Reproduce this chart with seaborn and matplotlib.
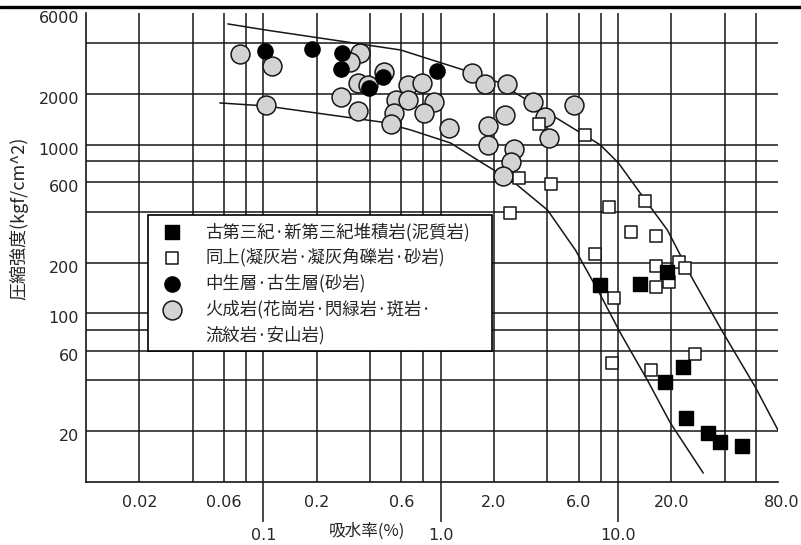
import matplotlib
matplotlib.use("Agg")
import matplotlib.pyplot as plt
from matplotlib.lines import Line2D
from matplotlib.transforms import ScaledTranslation
import seaborn as sns

# ---- data: water absorption (%) vs. compressive strength (kgf/cm^2) ----
# Paleogene / Neogene sedimentary rock (mudstone)
mud_x = [19.0, 7.97, 13.4, 18.5, 23.4, 24.3, 32.4, 37.8, 50.3]
mud_y = [176, 147, 149, 39.2, 48, 23.9, 19.5, 17.3, 16.3]

# same age (tuff, tuff breccia, sandstone)
tuff_x = [3.57, 6.56, 2.76, 4.17, 2.45, 8.96, 14.3, 11.8, 16.5, 7.47,
          16.3, 22.2, 24.0, 16.3, 19.3, 9.55, 9.27, 15.4, 27.3]
tuff_y = [1320, 1140, 630, 580, 393, 427, 463, 303, 287, 225,
          190, 201, 186, 143, 153, 123, 50.7, 46, 57.4]

# Mesozoic / Paleozoic (sandstone)
meso_x = [0.102, 0.188, 0.277, 0.273, 0.471, 0.393, 0.96]
meso_y = [3590, 3690, 3490, 2800, 2520, 2170, 2730]

# igneous rock
ign_x = [0.074, 0.112, 0.103, 0.35, 0.31, 0.273, 0.34, 0.34, 0.388, 0.478,
         0.558, 0.544, 0.523, 0.652, 0.79, 0.652, 0.913, 0.81, 1.51, 1.77,
         2.38, 1.11, 1.86, 1.84, 2.32, 3.30, 3.86, 4.11, 5.69, 2.61,
         2.48, 2.26]
ign_y = [3450, 2920, 1720, 3490, 3090, 1910, 2320, 1580, 2250, 2690,
         1840, 1540, 1320, 2250, 2320, 1840, 1790, 1540, 2650, 2290,
         2290, 1250, 1290, 995, 1500, 1790, 1460, 1090, 1720, 940,
         790, 650]

# envelope curves
upper_x = [0.0631, 0.1033, 0.595, 1.348, 2.095, 3.80, 7.97, 10.07, 14.66,
           19.0, 26.6, 39.3, 59.5, 80.0]
upper_y = [5190, 4775, 3637, 2767, 2350, 1603, 994, 778, 451,
           312, 157.4, 76.4, 36.6, 20.3]
lower_x = [0.0569, 0.1033, 0.459, 0.678, 1.138, 1.68, 2.58, 4.01, 5.76,
           7.97, 10.33, 14.66, 19.76, 30.3]
lower_y = [1765, 1694, 1362, 1221, 1022, 789, 600, 409, 237,
           128.4, 76.4, 40.2, 22.4, 11.3]

# axis grid and tick labels
grid_x = [0.02, 0.04, 0.06, 0.08, 0.1, 0.2, 0.4, 0.6, 0.8, 1, 2, 4, 6, 8,
          10, 20, 40, 60]
grid_y = [20, 40, 60, 80, 100, 200, 400, 600, 800, 1000, 2000, 4000]
xtick_main = [0.1, 1, 10]
xtick_main_labels = ["0.1", "1.0", "10.0"]
xtick_sub = [0.02, 0.06, 0.2, 0.6, 2, 6, 20, 80]
xtick_sub_labels = ["0.02", "0.06", "0.2", "0.6", "2.0", "6.0", "20.0", "80.0"]
ytick_vals = [20, 60, 100, 200, 600, 1000, 2000, 6000]
ytick_labels = ["20", "60", "100", "200", "600", "1000", "2000", "6000"]

labels = [
    "古第三紀·新第三紀堆積岩(泥質岩)",
    "同上(凝灰岩·凝灰角礫岩·砂岩)",
    "中生層·古生層(砂岩)",
    "火成岩(花崗岩·閃緑岩·斑岩·",
    "流紋岩·安山岩)",
]

sns.set_style("white")
plt.rcParams["font.family"] = ["DejaVu Sans", "Noto Sans CJK JP"]
cjk = ["Noto Sans CJK JP", "DejaVu Sans"]
ink = "#161616"

fig = plt.figure(figsize=(8.01, 5.45), dpi=100)
ax = fig.add_axes([0.1074, 0.1156, 0.8639, 0.8600])
ax.set_xscale("log")
ax.set_yscale("log")
ax.set_xlim(0.01, 80)
ax.set_ylim(10, 6000)

for gx in grid_x:
    ax.axvline(gx, color=ink, lw=1.1, zorder=1)
for gy in grid_y:
    ax.axhline(gy, color=ink, lw=1.1, zorder=1)

ax.plot(upper_x, upper_y, color=ink, lw=1.1, zorder=2)
ax.plot(lower_x, lower_y, color=ink, lw=1.1, zorder=2)

sns.scatterplot(x=ign_x, y=ign_y, marker="o", s=185, color="#d3d3d3",
                edgecolor=ink, linewidth=1.1, zorder=3, ax=ax, label=labels[3])
sns.scatterplot(x=meso_x, y=meso_y, marker="o", s=120, color="black",
                edgecolor="black", linewidth=1.0, zorder=4, ax=ax, label=labels[2])
sns.scatterplot(x=tuff_x, y=tuff_y, marker="s", s=85, color="white",
                edgecolor=ink, linewidth=1.1, zorder=4, ax=ax, label=labels[1])
sns.scatterplot(x=mud_x, y=mud_y, marker="s", s=105, color="black",
                edgecolor="black", linewidth=1.0, zorder=5, ax=ax, label=labels[0])

handles, labs = ax.get_legend_handles_labels()
by_label = dict(zip(labs, handles))
blank = Line2D([], [], linestyle="none", marker=None)
leg_handles = [by_label[labels[0]], by_label[labels[1]], by_label[labels[2]],
               by_label[labels[3]], blank]
leg = ax.legend(leg_handles, labels, loc="upper left",
                bbox_to_anchor=(0.0896, 0.2, 0.4971, 0.369), mode="expand",
                borderaxespad=0, prop=dict(family=cjk, size=12.5),
                frameon=True, fancybox=False, edgecolor="black", framealpha=1,
                facecolor="white", handlelength=2.0, handletextpad=0.9,
                labelspacing=0.42, borderpad=0.4, scatterpoints=1)
leg.get_frame().set_linewidth(1.2)
leg.set_zorder(10)

for side in ("top", "right"):
    ax.spines[side].set_visible(False)
for side in ("left", "bottom"):
    ax.spines[side].set_color(ink)
    ax.spines[side].set_linewidth(1.2)

ax.set_xticks(xtick_main)
ax.set_xticklabels(xtick_main_labels)
ax.set_xticks(xtick_sub, minor=True)
ax.set_xticklabels(xtick_sub_labels, minor=True)
ax.tick_params(axis="x", which="major", length=28.8, width=1.1, pad=4,
               labelsize=11.5, direction="out", color=ink, bottom=True)
ax.tick_params(axis="x", which="minor", length=0, pad=9.5, labelsize=11.5,
               bottom=True)
ax.set_yticks(ytick_vals)
ax.set_yticklabels(ytick_labels)
ax.set_yticks([], minor=True)
ax.tick_params(axis="y", which="both", length=0, pad=5, labelsize=11.5, left=True)

# strength labels sit a little below their grid lines
shift_down = ScaledTranslation(0, -4 / 100, fig.dpi_scale_trans)
for lbl in ax.get_yticklabels():
    lbl.set_transform(lbl.get_transform() + shift_down)
# the last abscissa label sits just past the axis end
shift_right = ScaledTranslation(4 / 100, 0, fig.dpi_scale_trans)
for lbl in ax.get_xticklabels(minor=True):
    if lbl.get_text() == "80.0":
        lbl.set_transform(lbl.get_transform() + shift_right)

ax.set_xlabel("吸水率(%)", family=cjk, fontsize=12)
ax.xaxis.set_label_coords(0.406, -0.087)
ax.set_ylabel("圧縮強度(kgf/cm^2)", family=cjk, fontsize=13)
ax.yaxis.set_label_coords(-0.083, 0.563)

# rule across the top of the page
fig.add_artist(Line2D([0, 1], [0.987, 0.987], transform=fig.transFigure,
                      color="black", lw=2.4))

fig.savefig("out.png", dpi=100)
